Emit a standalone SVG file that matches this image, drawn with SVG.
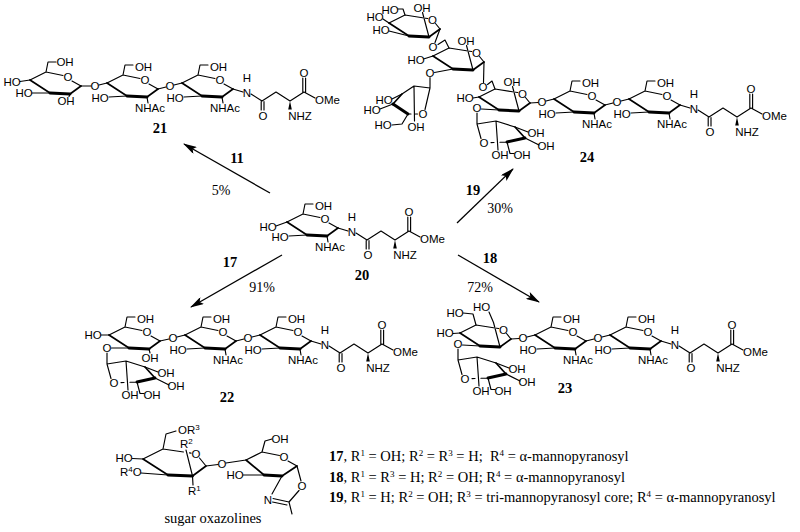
<svg xmlns="http://www.w3.org/2000/svg" xmlns:xlink="http://www.w3.org/1999/xlink" width="800" height="532" viewBox="0 0 800 532">
<style>
.b{stroke:#000;stroke-width:1.15;fill:none;stroke-linecap:round;stroke-linejoin:round}
.m{stroke:#000;stroke-width:1.7;fill:none;stroke-linecap:round}
.w{stroke:#000;stroke-width:2.9;fill:none;stroke-linecap:round}
.t{font-family:"Liberation Sans",Arial,sans-serif;font-size:11.5px;text-anchor:middle;fill:#000}
.s{font-family:"Liberation Sans",Arial,sans-serif;font-size:11.5px;fill:#000}
.n{font-family:"Liberation Serif","Times New Roman",serif;font-weight:bold;font-size:14.5px;text-anchor:middle;fill:#000}
.p{font-family:"Liberation Serif","Times New Roman",serif;font-size:14px;text-anchor:middle;fill:#000}
.q{font-family:"Liberation Serif","Times New Roman",serif;font-size:14.5px;fill:#000}
.a{stroke:#000;stroke-width:1.3;fill:none}
</style>
<defs>
<marker id="ah" viewBox="0 0 14 8" refX="13" refY="4" markerWidth="14" markerHeight="8" orient="auto" markerUnits="userSpaceOnUse"><path d="M0,0 L14,4 L0,8 L3,4 Z" fill="#000"/></marker>
<g id="glc"><path class="b" d="M-38,3 L-22,-5 L-5,-1.5 M4,4 L13,9 M-22,-5 L-20,-15 L-12,-15"/><path class="m" d="M13,9 L2,17 M-18,16 L-38,3"/><path class="w" d="M2,17 L-18,16"/></g>
<g id="man"><path class="b" d="M-38,3 L-22,-5 L-4.5,-2.2 M-1.5,-1.8 L0.8,-1.5 M8.5,3.5 L13,9 M2,17 L-4.5,-7.5"/><path class="m" d="M13,9 L2,17 M-18,16 L-38,3"/><path class="w" d="M2,17 L-18,16"/></g>
<g id="r2"><use xlink:href="#glc" x="145" y="80"/><path class="b" d="M99,85 L107,83 M109,97 L127,96 M147,97 L148,103 M158,89 L166,87 M174,85 L182,83"/></g>
<g id="r3"><use xlink:href="#glc" x="220" y="80"/><path class="b" d="M184,97 L202,96 M222,97 L223,103 M233,89 L243,92 M251,94 L262,101 L276,92 L290,101 L304,92 L315,98 M261.2,101.5 L261.2,110 M264,101.5 L264,110 M302.8,92.5 L302.8,78 M305.6,92.5 L305.6,78"/><polygon points="290,101 288.2,109.5 291.8,109.5" fill="#000"/></g>
<g id="manBr"><path class="b" d="M0,5 L0,16 L19,13 L38,19 M30,34 L23,34.3 M17,34.5 L14,34.6 M4,30.5 L0,16 M38,19 L51,24 M48,30 L62,37 M19,13 L21,42 M30,34 L33,45.5 L37,45.5"/><path class="m" d="M38,19 L48,30"/><path class="w" d="M48,30 L30,34"/></g>
</defs>

<g id="connectors">
<line class="a" x1="270" y1="193" x2="184" y2="144" marker-end="url(#ah)"/>
<line class="a" x1="457" y1="223" x2="513" y2="169" marker-end="url(#ah)"/>
<line class="a" x1="282" y1="255" x2="191" y2="307" marker-end="url(#ah)"/>
<line class="a" x1="458" y1="255" x2="539" y2="302" marker-end="url(#ah)"/>
<text class="n" x="237" y="163">11</text>
<text class="p" x="221" y="195">5%</text>
<text class="n" x="473" y="195">19</text>
<text class="p" x="500" y="213">30%</text>
<text class="n" x="230" y="267">17</text>
<text class="p" x="262" y="292">91%</text>
<text class="n" x="490" y="263">18</text>
<text class="p" x="480" y="292">72%</text>
</g>

<g id="c21">
<use xlink:href="#glc" x="68" y="77"/>
<use xlink:href="#r2"/><use xlink:href="#r3"/>
<path class="b" d="M20,81.5 L30,80 M32,93 L50,93 M70,94 L69,96.5 M81,86 L91,86"/>
<text class="t" x="12" y="86">HO</text><text class="t" x="24" y="97">HO</text><text class="t" x="65" y="66">OH</text><text class="t" x="68" y="81">O</text><text class="t" x="66" y="105">OH</text><text class="t" x="95" y="90">O</text>
<text class="t" x="143.5" y="71">OH</text><text class="t" x="145" y="84">O</text><text class="t" x="100" y="102">HO</text><text class="t" x="150" y="112">NHAc</text><text class="t" x="170" y="90">O</text>
<text class="t" x="218.5" y="71">OH</text><text class="t" x="220" y="84">O</text><text class="t" x="175" y="102">HO</text><text class="t" x="225" y="112">NHAc</text><text class="t" x="247" y="82">H</text><text class="t" x="247" y="97">N</text>
<text class="t" x="263" y="119.5">O</text><text class="t" x="300" y="119.5">NHZ</text><text class="t" x="304" y="76.5">O</text><text class="s" x="315" y="104">OMe</text>
<text class="n" x="160" y="133">21</text>
</g>

<g id="c20" transform="translate(105,139)">
<use xlink:href="#r3"/>
<path class="b" d="M171,87 L182,83"/>
<text class="t" x="163" y="92">HO</text>
<text class="t" x="218.5" y="71">OH</text><text class="t" x="220" y="84">O</text><text class="t" x="175" y="102">HO</text><text class="t" x="225" y="112">NHAc</text><text class="t" x="247" y="82">H</text><text class="t" x="247" y="97">N</text>
<text class="t" x="263" y="119.5">O</text><text class="t" x="300" y="119.5">NHZ</text><text class="t" x="304" y="76.5">O</text><text class="s" x="315" y="104">OMe</text>
<text class="n" x="257" y="141">20</text>
</g>

<g id="c22" transform="translate(78,252)">
<use xlink:href="#glc" x="69" y="80"/>
<use xlink:href="#r2"/><use xlink:href="#r3"/>
<use xlink:href="#manBr" x="29" y="96"/>
<path class="b" d="M23,83 L31,83 M33.5,96 L51,96 M71,97 L72,101 M82,89 L91,87"/>
<text class="t" x="15" y="87">HO</text><text class="t" x="29" y="100">O</text><text class="t" x="67.5" y="71">OH</text><text class="t" x="69" y="84">O</text><text class="t" x="72" y="110">OH</text><text class="t" x="95" y="90">O</text>
<text class="t" x="36" y="135">O</text><text class="t" x="88" y="125">OH</text><text class="t" x="98" y="138">OH</text><text class="t" x="52" y="147">OH</text><text class="t" x="74" y="147">OH</text>
<text class="t" x="143.5" y="71">OH</text><text class="t" x="145" y="84">O</text><text class="t" x="100" y="102">HO</text><text class="t" x="150" y="112">NHAc</text><text class="t" x="170" y="90">O</text>
<text class="t" x="218.5" y="71">OH</text><text class="t" x="220" y="84">O</text><text class="t" x="175" y="102">HO</text><text class="t" x="225" y="112">NHAc</text><text class="t" x="247" y="82">H</text><text class="t" x="247" y="97">N</text>
<text class="t" x="263" y="119.5">O</text><text class="t" x="300" y="119.5">NHZ</text><text class="t" x="304" y="76.5">O</text><text class="s" x="315" y="104">OMe</text>
<text class="n" x="149" y="150">22</text>
</g>

<g id="c23" transform="translate(428,252)">
<use xlink:href="#man" x="70" y="78"/>
<use xlink:href="#r2"/><use xlink:href="#r3"/>
<use xlink:href="#manBr" x="30" y="92"/>
<path class="b" d="M65.5,70.5 L61,60 M25,81.5 L32,81 M52,94 L34.5,93 M35,61 L45,62 L48,73 M83,87 L91,86.5"/>
<text class="t" x="53.5" y="59">HO</text><text class="t" x="27" y="65">HO</text><text class="t" x="75.5" y="81.5">O</text><text class="t" x="17" y="85">HO</text><text class="t" x="30" y="96">O</text><text class="t" x="95" y="90">O</text>
<text class="t" x="37" y="131">O</text><text class="t" x="89" y="121">OH</text><text class="t" x="99" y="134">OH</text><text class="t" x="53" y="143">OH</text><text class="t" x="75" y="143">OH</text>
<text class="t" x="143.5" y="71">OH</text><text class="t" x="145" y="84">O</text><text class="t" x="100" y="102">HO</text><text class="t" x="150" y="112">NHAc</text><text class="t" x="170" y="90">O</text>
<text class="t" x="218.5" y="71">OH</text><text class="t" x="220" y="84">O</text><text class="t" x="175" y="102">HO</text><text class="t" x="225" y="112">NHAc</text><text class="t" x="247" y="82">H</text><text class="t" x="247" y="97">N</text>
<text class="t" x="263" y="119.5">O</text><text class="t" x="300" y="119.5">NHZ</text><text class="t" x="304" y="76.5">O</text><text class="s" x="315" y="104">OMe</text>
<text class="n" x="137" y="141">23</text>
</g>

<g id="c24" transform="translate(447,16)">
<use xlink:href="#man" x="70" y="78"/>
<use xlink:href="#r2"/><use xlink:href="#r3"/>
<use xlink:href="#manBr" x="30" y="92"/>
<use xlink:href="#man" x="24" y="37"/>
<use xlink:href="#man" x="-20" y="4"/>
<path class="b" d="M26,82 L32,81 M52,94 L34.5,93 M48,73 L45,65 L40.5,68.5 M83,87 L91,86.5"/>
<path class="b" d="M37,46 L36.5,66.5 M-23.5,43 L-14,40 M6,53 L-12.5,56.5 M2,32 L-2,24 L-9,28.5"/>
<path class="b" d="M-7,13 L-12,26.5 M-64,3 L-58,7 M-58,15 L-38,20 M-42,-1 L-44,-7 L-49,-7"/>
<path class="b" d="M-17,61.5 L-17,72 L-33,70 L-45,78 M-39,98 L-36,98 M-31.5,98 L-29.5,98 M-22,93.5 L-17,72 M-45,78 L-55,83 M-54,88 L-67,93 M-39,98 L-45,108 L-55,109 M-33,70 L-32.5,105"/>
<path class="m" d="M-45,78 L-54,88"/><path class="w" d="M-54,88 L-39,98"/>
<text class="t" x="65" y="70">OH</text><text class="t" x="75.5" y="81.5">O</text><text class="t" x="18" y="86">HO</text><text class="t" x="30" y="96">O</text><text class="t" x="36" y="75">O</text><text class="t" x="95" y="90">O</text>
<text class="t" x="37" y="131">O</text><text class="t" x="89" y="121">OH</text><text class="t" x="99" y="134">OH</text><text class="t" x="53" y="143">OH</text><text class="t" x="75" y="143">OH</text>
<text class="t" x="19" y="29">OH</text><text class="t" x="29.5" y="40.5">O</text><text class="t" x="-31" y="48">HO</text><text class="t" x="-17" y="61">O</text><text class="t" x="-14" y="35">O</text>
<text class="t" x="-25" y="-4">OH</text><text class="t" x="-14.5" y="7.5">O</text><text class="t" x="-72" y="5">HO</text><text class="t" x="-66" y="18">HO</text><text class="t" x="-57" y="-2">HO</text>
<text class="t" x="-63" y="88">HO</text><text class="t" x="-75" y="98">HO</text><text class="t" x="-64" y="113">HO</text><text class="t" x="-31" y="115">OH</text><text class="t" x="-24" y="102">O</text>
<text class="t" x="143.5" y="71">OH</text><text class="t" x="145" y="84">O</text><text class="t" x="100" y="102">HO</text><text class="t" x="150" y="112">NHAc</text><text class="t" x="170" y="90">O</text>
<text class="t" x="218.5" y="71">OH</text><text class="t" x="220" y="84">O</text><text class="t" x="175" y="102">HO</text><text class="t" x="225" y="112">NHAc</text><text class="t" x="247" y="82">H</text><text class="t" x="247" y="97">N</text>
<text class="t" x="263" y="119.5">O</text><text class="t" x="300" y="119.5">NHZ</text><text class="t" x="304" y="76.5">O</text><text class="s" x="315" y="104">OMe</text>
<text class="n" x="140" y="146">24</text>
</g>

<g id="oxazoline">
<path class="b" d="M143,459 L163,449 L183.5,452 M189.5,452.9 L191,453.1 M199.5,458 L206,466 M192.5,476 L186,450 M163,449 L166,434 L176,431 M132.5,458.5 L143,459 M141,473 L168,475 M192.5,476 L193,485 M206,466 L218,464.5"/>
<path class="m" d="M206,466 L192.5,476 M168,475 L143,459"/><path class="w" d="M192.5,476 L168,475"/>
<path class="b" d="M226,463 L246,460 L262,452 L279.5,455.5 M288,461 L297,466 M262,452 L265,441 L272,439 M243,475 L264,475 M282,476 L272,494 M273,498.5 L289,502 M272.5,502 L287,505 M289,502 L299,490.5 M301,481 L297,466 M289,502 L292,514"/>
<path class="m" d="M297,466 L282,476 M264,475 L246,460"/><path class="w" d="M282,476 L264,475"/>
<text class="s" x="178" y="434">OR<tspan baseline-shift="super" font-size="8">3</tspan></text>
<text class="s" x="180" y="448">R<tspan baseline-shift="super" font-size="8">2</tspan></text>
<text class="t" x="196" y="458">O</text>
<text class="t" x="124" y="462">HO</text>
<text class="s" x="120" y="476">R<tspan baseline-shift="super" font-size="8">4</tspan><tspan baseline-shift="0">O</tspan></text>
<text class="s" x="188" y="495">R<tspan baseline-shift="super" font-size="8">1</tspan></text>
<text class="t" x="222" y="468">O</text>
<text class="t" x="280" y="443">OH</text>
<text class="t" x="284" y="461">O</text>
<text class="t" x="235" y="479">HO</text>
<text class="t" x="268" y="504">N</text>
<text class="t" x="302" y="490">O</text>
<text class="q" x="213" y="523" text-anchor="middle">sugar oxazolines</text>
</g>

<g id="legend">
<text class="q" x="329" y="461" xml:space="preserve"><tspan font-weight="bold">17</tspan>, R<tspan baseline-shift="super" font-size="9">1</tspan><tspan baseline-shift="0"> = OH; R</tspan><tspan baseline-shift="super" font-size="9">2</tspan><tspan baseline-shift="0"> = R</tspan><tspan baseline-shift="super" font-size="9">3</tspan><tspan baseline-shift="0"> = H;  R</tspan><tspan baseline-shift="super" font-size="9">4</tspan><tspan baseline-shift="0"> = α-mannopyranosyl</tspan></text>
<text class="q" x="329" y="482"><tspan font-weight="bold">18</tspan>, R<tspan baseline-shift="super" font-size="9">1</tspan><tspan baseline-shift="0"> = R</tspan><tspan baseline-shift="super" font-size="9">3</tspan><tspan baseline-shift="0"> = H; R</tspan><tspan baseline-shift="super" font-size="9">2</tspan><tspan baseline-shift="0"> = OH; R</tspan><tspan baseline-shift="super" font-size="9">4</tspan><tspan baseline-shift="0"> = α-mannopyranosyl</tspan></text>
<text class="q" x="329" y="502"><tspan font-weight="bold">19</tspan>, R<tspan baseline-shift="super" font-size="9">1</tspan><tspan baseline-shift="0"> = H; R</tspan><tspan baseline-shift="super" font-size="9">2</tspan><tspan baseline-shift="0"> = OH; R</tspan><tspan baseline-shift="super" font-size="9">3</tspan><tspan baseline-shift="0"> = tri-mannopyranosyl core; R</tspan><tspan baseline-shift="super" font-size="9">4</tspan><tspan baseline-shift="0"> = α-mannopyranosyl</tspan></text>
</g>
</svg>
